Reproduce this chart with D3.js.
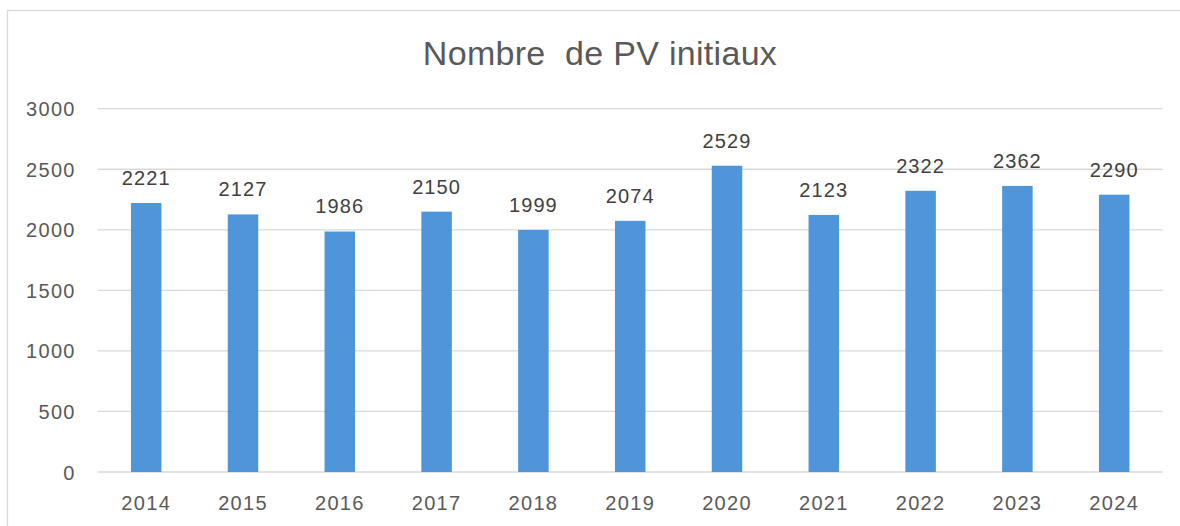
<!DOCTYPE html>
<html>
<head>
<meta charset="utf-8">
<script src="https://cdn.jsdelivr.net/npm/d3@7"></script>
<style>
    body { margin: 0; background: #fff; }
    svg text { font-family: "Liberation Sans", Arial, sans-serif; }
</style>
</head>
<body>
<div id="chart"></div>
<script>
var years = ["2014", "2015", "2016", "2017", "2018", "2019", "2020", "2021", "2022", "2023", "2024"];
var counts = [2221, 2127, 1986, 2150, 1999, 2074, 2529, 2123, 2322, 2362, 2290];
var yTicks = [0, 500, 1000, 1500, 2000, 2500, 3000];
var chartTitle = "Nombre  de PV initiaux";

var width = 1180, height = 526;
var margin = {top: 108.7, right: 17.4, bottom: 54, left: 97.8};

var svg = d3.select("#chart").append("svg")
    .attr("width", width)
    .attr("height", height);

// chart frame (cut off on the right and bottom like the screenshot)
svg.append("rect")
    .attr("x", 7.5).attr("y", 10.5)
    .attr("width", width + 10).attr("height", height + 10)
    .style("fill", "none")
    .style("stroke", "#d9d9d9")
    .style("stroke-width", 1.3);

svg.append("text")
    .attr("x", 600).attr("y", 65)
    .attr("text-anchor", "middle")
    .style("white-space", "pre")
    .style("font-size", "34px")
    .style("letter-spacing", "0.3px")
    .style("fill", "#595959")
    .text(chartTitle);

var x = d3.scaleBand()
    .domain(years)
    .range([margin.left, width - margin.right])
    .paddingInner(0.685)
    .paddingOuter(0.3425);

var y = d3.scaleLinear()
    .domain([0, 3000])
    .range([472, margin.top]);

var grid = svg.append("g").classed("grid", true);
grid.selectAll("line")
    .data(yTicks)
    .enter()
    .append("line")
        .attr("x1", margin.left)
        .attr("x2", width - margin.right)
        .attr("y1", function(d) { return y(d); })
        .attr("y2", function(d) { return y(d); })
        .style("stroke", "#d9d9d9")
        .style("stroke-width", 1.3);

var yAxis = svg.append("g")
    .attr("transform", "translate(" + (margin.left - 22) + ",0)")
    .call(d3.axisLeft(y).tickValues(yTicks).tickFormat(d3.format("d")).tickSize(0).tickPadding(0));
yAxis.select(".domain").remove();
yAxis.selectAll("text")
    .style("font-size", "20px")
    .style("letter-spacing", "1.3px")
    .style("fill", "#595959")
    .attr("dy", "0.35em");

var xAxis = svg.append("g")
    .attr("transform", "translate(0," + 472 + ")")
    .call(d3.axisBottom(x).tickSize(0).tickPadding(0));
xAxis.select(".domain").remove();
xAxis.selectAll("text")
    .style("font-size", "20px")
    .style("letter-spacing", "1.3px")
    .style("fill", "#595959")
    .attr("dy", "0")
    .attr("y", 38);

var bars = svg.append("g").classed("bars", true)
    .selectAll("g")
    .data(counts)
    .enter()
    .append("g");

bars.append("rect")
    .attr("x", function(d, i) { return x(years[i]); })
    .attr("y", function(d) { return y(d); })
    .attr("width", x.bandwidth())
    .attr("height", function(d) { return y(0) - y(d); })
    .style("fill", "#4f95d9");

bars.append("text")
    .attr("x", function(d, i) { return x(years[i]) + x.bandwidth() / 2; })
    .attr("y", function(d) { return y(d) - 18; })
    .attr("text-anchor", "middle")
    .style("font-size", "20px")
    .style("letter-spacing", "1.1px")
    .style("fill", "#404040")
    .text(function(d) { return d; });
</script>
</body>
</html>
